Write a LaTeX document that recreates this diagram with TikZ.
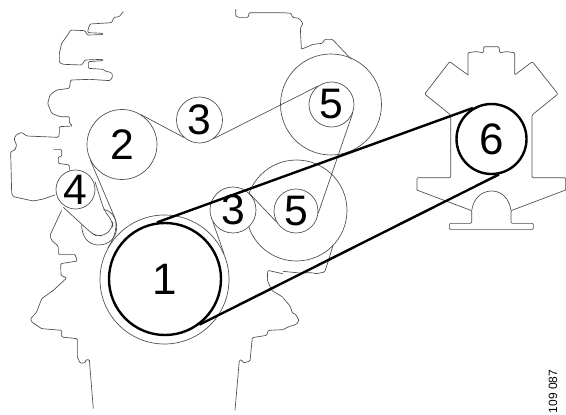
\documentclass[tikz,border=0pt]{standalone}
\usepackage{fontspec}
\setmainfont{Liberation Sans}
\definecolor{thinline}{gray}{0.3}
\tikzset{
  outline/.style={draw=thinline,line width=0.5pt,line join=round,rounded corners=0.8pt},
  belt/.style={draw=thinline,line width=0.5pt},
  thickbelt/.style={draw=black,line width=1.8pt},
  pulley/.style={circle,draw=thinline,line width=0.5pt,inner sep=0pt,minimum size=#1*0.75pt,font=\fontsize{32}{32}\selectfont},
  mainpulley/.style={circle,draw=black,line width=1.8pt,inner sep=0pt,minimum size=#1*0.75pt,font=\fontsize{33}{33}\selectfont},
  zoomA/.style={x=.25pt,y=-.25pt},
  zoomB/.style={shift={(283,0)},x=.25pt,y=-.25pt},
  zoomC/.style={shift={(0,207)},x=.25pt,y=-.25pt},
  zoomD/.style={shift={(283,207)},x=.25pt,y=-.25pt},
  zoomE/.style={shift={(410,160)},x=.25pt,y=-.25pt},
  zoomF/.style={shift={(50,150)},x=.25pt,y=-.25pt}
}
\begin{document}
\begin{tikzpicture}[x=.75pt,y=-.75pt]
\useasboundingbox (0,0) rectangle (566,414);
% engine outline, upper left
\begin{scope}[zoomA]
\draw[outline] (370,35)--(358,50)--(342,52)--(335,68)--(270,72)--(265,85)--(263,98)--(308,100)--(308,104)--(262,105)--(255,92)--(212,90)--(205,102)--(185,130)--(178,160)--(178,188)--(190,193)--(245,195)--(255,180)--(308,178)--(308,182)--(265,185)--(265,205)--(310,208)--(315,213)--(335,218)--(338,230)--(330,242)--(270,238)--(212,240)--(208,265)--(170,270)--(150,285)--(143,310)--(155,340)--(180,350)--(208,350)--(208,368)--(218,378)--(178,380)--(178,403)--(175,412)--(80,408)--(65,397)--(48,405)--(42,418)--(50,435)--(45,450)--(32,455)--(35,580)--(40,590)--(100,603)--(130,597)--(165,585);
\draw[outline] (160,448)--(185,448)--(185,470)--(175,470)--(175,490)--(208,495)--(208,512);
\draw[outline] (707,27)--(707,48)--(715,52)--(745,52)--(747,38)--(848,38);
\end{scope}
% engine outline, upper right
\begin{scope}[zoomB]
\draw[outline] (0,38)--(25,40)--(28,52)--(48,55)--(60,70)--(52,85)--(55,148)--(90,133)--(118,130)--(125,118)--(148,118)--(205,178);
\end{scope}
% engine outline, lower left
\begin{scope}[zoomC]
\draw[outline] (185,10)--(150,85)--(155,100)--(175,118)--(175,142)--(225,142)--(232,162)--(182,170)--(183,205)--(200,213)--(160,250)--(125,275)--(110,315)--(92,335)--(95,345)--(125,365)--(185,370)--(185,390)--(232,395)--(232,450)--(240,468)--(255,468)--(258,458)--(268,458)--(280,605);
\draw[outline] (705,610)--(718,460)--(725,458)--(730,468)--(750,462)--(757,392)--(800,385)--(805,370)--(848,368);
\draw[outline] (848,200)--(803,190)--(802,220)--(815,250)--(848,270);
\end{scope}
% engine outline, lower right
\begin{scope}[zoomD]
\draw[outline] (0,272)--(22,298)--(28,318)--(38,322)--(48,340)--(40,352)--(15,360)--(0,368);
\draw[outline] (0,193)--(50,198)--(85,197)--(100,200)--(125,195)--(135,165)--(150,115);
\end{scope}
% compressor housing
\begin{scope}[zoomB]
\draw[outline] (555,225)--(500,185)--(425,282)--(503,345)--(503,533)--(402,533)--(402,570);
\draw[outline] (848,570)--(848,533)--(747,533)--(747,345)--(825,282)--(748,185)--(695,225)--(695,158)--(670,155)--(650,158)--(648,140)--(602,140)--(602,158)--(578,155)--(555,158)--(555,225);
\end{scope}
\begin{scope}[zoomE]
\draw[outline] (20,90)--(185,152)--(185,190)--(118,190)--(118,208)--(370,208)--(370,190)--(303,190)--(303,152)--(467,90);
\draw[belt] (185,152) .. controls (190,115) and (215,93) .. (245,93) .. controls (275,93) and (298,115) .. (303,152);
\end{scope}
% tensioner arm
\begin{scope}[zoomF]
\draw[belt,rounded corners=4pt] (135,95)--(162,180)--(188,215)--(188,232)--(165,256)--(140,258)--(125,250)--(40,172);
\draw[belt] (160,178) .. controls (185,182) and (200,205) .. (200,232) .. controls (200,265) and (175,285) .. (145,285) .. controls (115,285) and (95,260) .. (95,225);
\coordinate (beltbend) at (195,205);
\coordinate (beltc) at (203,228);
\coordinate (beltd) at (195,262);
\end{scope}
% pulleys
\node[pulley=129] (outerone) at (164.5,279.5) {};
\node[pulley=101] (bigfivea) at (331,104.5) {};
\node[pulley=101] (bigfiveb) at (296.5,210.5) {};
\node[pulley=70,fill=white] (two) at (122,144.5) {2};
\node[pulley=46,fill=white] (threea) at (199.5,120) {3};
\node[pulley=45,fill=white] (fivea) at (331.5,104.5) {5};
\node[pulley=46,fill=white] (threeb) at (233,210) {3};
\node[pulley=44,fill=white] (fiveb) at (296,211) {5};
\node[pulley=39,fill=white] (four) at (75.5,189.5) {4};
\node[mainpulley=112,fill=white] (one) at (165,279) {1};
\node[mainpulley=70,fill=white] (six) at (491.5,139) {6};
% thin belt
\draw[belt] (two.58.6) -- (threea.229.5);
\draw[belt] (threea.306) -- (fivea.126);
\draw[belt] (fivea.340) -- (fiveb.354);
\draw[belt] (fiveb.210) -- (threeb.47);
\draw[belt] (threeb.210) -- (outerone.23);
\draw[belt] (two.206.5) -- (beltbend) .. controls (beltc) and (beltd) .. (outerone.151);
% thick belt
\draw[thickbelt] (one.98) -- (six.121);
\draw[thickbelt] (one.307) -- (six.282);
% drawing number
\node[rotate=90,inner sep=0pt,font=\fontsize{9}{9}\selectfont] (drawingno) at (553,391.5) {109 087};
\end{tikzpicture}
\end{document}
